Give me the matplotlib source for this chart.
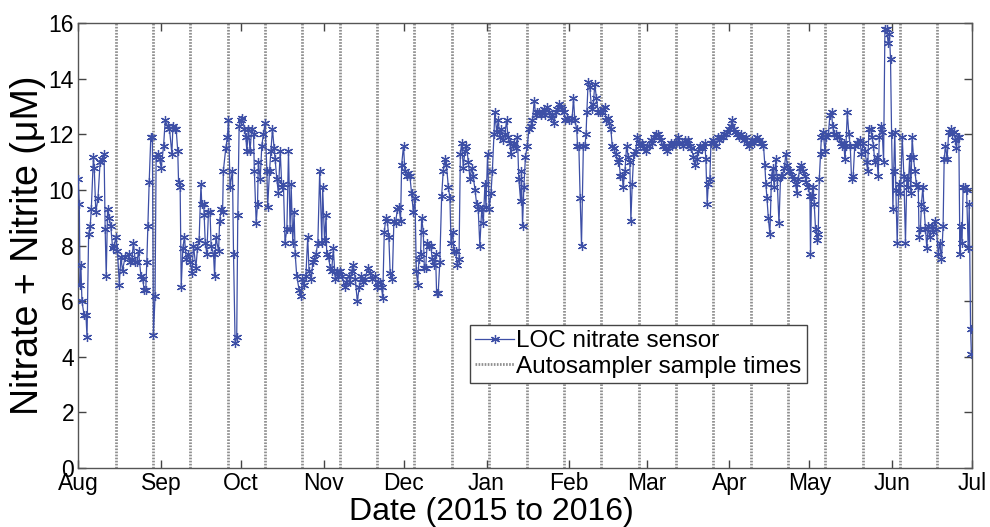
import matplotlib
matplotlib.use("Agg")
import matplotlib.pyplot as plt
import matplotlib.dates as mdates
import pandas as pd

# LOC sensor record: days after 1 Aug 2015 and nitrate + nitrite (uM)
days = [
    0.0, 0.4, 0.7, 1.0, 1.4, 2.2, 2.9, 3.3, 3.9, 4.5, 4.9, 5.7, 6.0, 6.6, 7.4, 8.2, 8.9, 9.7, 10.1, 10.5,
    11.0, 11.6, 12.2, 12.9, 13.5, 14.1, 14.7, 15.4, 16.0, 16.6, 17.6, 18.9, 19.5, 20.1, 20.7, 21.4, 22.0, 22.6,
    23.5, 24.2, 24.7, 25.3, 25.7, 26.1, 26.6, 27.2, 27.8, 28.2, 28.8, 29.2, 29.8, 30.5, 31.1, 32.0, 32.6, 33.5,
    34.2, 35.1, 35.5, 36.1, 36.7, 37.3, 37.6, 38.2, 38.6, 39.2, 39.8, 40.5, 41.3, 42.0, 42.6, 43.2, 44.1, 44.7,
    45.3, 46.0, 46.3, 47.0, 47.2, 47.6, 48.2, 48.8, 49.4, 49.8, 50.7, 51.1, 51.6, 52.6, 53.0, 53.6, 54.1, 54.4,
    55.3, 55.9, 56.3,
    56.9, 57.8, 58.2, 58.8, 59.4, 59.8, 60.3, 61.0, 61.5, 62.3, 62.8, 63.2, 63.8, 64.4, 65.0, 65.7, 66.0, 66.7,
    67.2, 67.5, 68.2, 68.8, 69.4, 70.0, 70.7, 71.0, 71.7, 72.2, 72.8, 73.4, 73.8, 74.4, 75.0, 75.7, 76.3, 76.9,
    77.5, 78.2, 78.8, 79.4, 79.8, 80.4, 80.9, 81.3, 81.9, 82.8, 83.5, 84.0, 84.6, 85.3, 86.0, 86.5, 87.3, 87.9,
    88.5, 89.1, 89.8, 90.5, 91.3, 91.6, 92.3, 92.9, 93.1, 93.8, 94.4, 95.0, 95.6, 96.3, 96.9, 97.5, 98.1, 99.0,
    99.8, 100.4, 101.3, 101.9, 102.5, 103.1, 103.8, 104.6, 105.3, 106.0, 106.8, 107.5, 108.5, 109.4, 110.2,
    111.2, 111.8, 112.5, 113.1, 113.7, 114.1, 114.7, 115.3, 115.8, 116.4, 116.9, 117.7, 118.3, 118.9, 119.6,
    120.2, 120.8, 121.2, 121.9, 122.4, 123.1, 123.7, 124.3, 124.9, 125.6, 126.2, 126.7, 127.2, 127.7, 128.3,
    128.7, 129.3, 129.7, 130.2, 130.8, 131.4, 132.1, 132.7, 133.3, 133.9, 134.3, 134.9, 135.5, 136.2, 136.8,
    137.4, 138.0, 138.7, 139.3, 139.7, 140.3, 140.8, 141.4, 142.0, 142.7, 143.2, 143.7, 144.3, 144.9, 145.5,
    146.2, 146.8, 147.4, 148.0, 148.7, 149.3, 149.9, 150.5, 151.2, 151.8, 152.4, 152.8, 153.4, 154.0, 154.7,
    155.2, 155.8, 156.1, 156.8, 157.4, 158.0, 158.6, 159.3, 159.9, 160.5, 161.1, 161.8, 162.1, 162.8, 163.4,
    163.9, 164.6, 165.1, 165.8, 166.1, 166.5, 167.0, 167.6, 168.3, 168.9,
    169.5, 170.2, 170.9, 171.4, 172.0, 172.6, 173.3, 173.9, 174.5, 175.1, 175.8, 176.4, 177.0, 177.6, 178.3,
    178.9, 179.5, 180.1, 180.8, 181.4, 182.0, 182.6, 183.3, 183.9, 184.5, 185.1, 185.6, 186.1, 186.8, 187.1,
    187.6, 188.1, 188.6, 189.3, 189.9, 190.3, 190.6, 191.1, 191.7, 192.4, 193.0, 193.6, 194.2, 194.9, 195.5,
    196.1, 196.7, 197.4, 197.7, 198.4, 198.9, 199.6, 200.1, 200.7, 201.4, 202.1, 202.6, 203.2, 203.9, 204.2,
    204.9, 205.5, 206.1, 206.7, 207.1, 207.6, 208.2, 208.9, 209.5, 210.1, 210.7, 211.4, 212.0, 212.6, 213.2,
    213.8, 214.5, 215.1, 215.8, 216.5, 217.1, 217.7, 218.3, 219.0, 219.6, 220.2, 220.8, 221.5, 222.1, 222.7,
    223.3, 224.0, 224.6, 225.2,
    226.1, 226.7, 227.4, 228.0, 228.6, 229.2, 229.8, 230.5, 231.1, 231.7, 232.3, 233.0, 233.6, 234.2, 234.8,
    235.2, 235.7, 236.1, 236.7, 237.1, 237.7, 238.3, 239.0, 239.6, 240.2, 240.8, 241.5, 242.1, 242.7, 243.3,
    244.0, 244.6, 245.1, 245.7, 246.3, 247.0, 247.6, 248.2, 248.8, 249.4, 250.1, 250.7, 251.3, 251.9, 252.6,
    253.2, 253.8, 254.4, 255.1, 255.7, 256.3, 256.8, 257.3, 257.7, 258.1, 258.6, 259.2, 259.8, 260.3, 260.8,
    261.4, 261.9, 262.6, 263.2, 263.8, 264.6, 265.2, 265.7, 266.3, 266.9, 267.6, 268.2, 268.8, 269.3, 269.8,
    270.4, 271.0, 271.7, 272.3, 272.9, 273.5, 274.2, 274.4, 274.8, 275.4, 275.8, 276.3, 276.9, 277.3, 277.7,
    278.2, 278.5, 279.2,
    279.8, 280.4, 281.1, 281.7, 282.3, 282.7, 283.2, 283.8, 284.4, 285.0, 285.7, 286.3, 286.9, 287.3, 287.7,
    288.2, 288.8, 289.3, 289.8, 290.4, 291.0, 291.7, 292.3, 292.9, 293.5, 294.2, 294.8, 295.4, 295.8, 296.3,
    296.9, 297.5, 298.0, 298.5, 299.2, 299.8, 300.2, 300.8, 301.3, 301.8, 302.3, 302.9, 303.5, 304.0, 304.4,
    304.8, 305.3, 305.6, 306.0, 306.4, 306.9, 307.5, 308.1, 308.8, 309.4, 310.0, 310.5, 311.0, 311.6, 312.0,
    312.5, 313.0, 313.5, 314.1, 314.8, 315.1, 315.6, 316.0, 316.5, 317.0, 317.5, 318.0, 318.5, 319.1, 319.8,
    320.4, 321.0, 321.6, 322.3, 322.9, 323.5, 324.1, 324.5, 325.0, 325.6, 326.2, 326.9, 327.5, 328.1, 328.7,
    329.1, 329.5, 330.0, 330.4, 330.7, 331.2, 331.6, 332.2, 332.9, 333.5, 333.9, 334.4, 334.7,
]
nitrate = [
    10.4, 9.5, 6.6, 7.3, 6.0, 5.5, 5.5, 4.7, 8.4, 8.7, 9.3, 11.2, 10.8, 9.2, 9.7, 11.0, 11.1, 11.3, 8.6, 6.9,
    9.3, 9.0, 8.7, 7.9, 8.0, 8.3, 7.8, 6.6, 7.6, 7.1, 7.6, 7.7, 7.4, 7.5, 8.1, 7.4, 7.4, 7.8,
    6.9, 6.8, 6.4, 6.4, 7.4, 8.7, 10.3, 11.9, 11.9, 4.8, 6.2, 11.2, 11.3, 11.1, 10.8, 11.6, 12.5, 12.3,
    12.2, 11.3, 12.3, 12.2, 12.2, 11.4, 10.3, 10.1, 6.5, 7.9, 8.3, 7.5, 7.7, 7.4, 7.0, 8.0, 7.2, 7.9,
    8.2, 10.2, 9.5, 9.5, 9.1, 8.1, 7.7, 9.2, 9.2, 8.0, 7.7, 6.9, 8.3, 7.8, 8.9, 9.3, 9.2, 10.7,
    11.5, 11.9, 12.5,
    10.1, 10.7, 7.7, 4.5, 4.7, 9.1, 12.3, 12.5, 12.6, 12.2, 11.9, 11.4, 12.2, 11.4, 12.2, 12.0, 10.7, 8.8,
    9.5, 11.0, 10.4, 11.6, 12.0, 12.4, 10.7, 9.4, 10.7, 11.4, 12.2, 11.5, 11.1, 10.4, 9.9, 11.4, 10.1, 10.2,
    8.1, 8.6, 11.4, 8.6, 10.2, 8.1, 9.2, 7.7, 6.9, 6.4, 6.2, 6.8, 6.6, 6.9, 8.3, 7.1, 6.8, 7.4,
    7.5, 7.7, 8.1, 10.7, 8.1, 10.1, 8.2, 9.1, 7.7, 7.6, 7.2, 7.1, 7.9, 6.8, 7.1, 6.9, 7.1, 6.9,
    6.5, 6.7, 6.9, 6.7, 7.1, 7.3, 6.8, 6.0, 6.5, 6.9, 6.7, 6.8, 7.2, 7.0, 6.8,
    6.9, 6.5, 6.7, 6.7, 6.5, 6.1, 8.5, 9.0, 8.9, 8.3, 7.0, 6.8, 8.9, 8.8, 9.3,
    9.4, 8.9, 10.9, 11.6, 10.7, 10.5, 10.6, 10.5, 9.9, 9.2, 9.7, 7.1, 6.6, 7.5, 7.7,
    9.0, 8.5, 7.2, 7.2, 8.1, 8.0, 8.0, 7.5, 7.3, 7.7, 6.3, 6.3, 7.4, 9.8, 10.7,
    11.1, 10.9, 10.1, 9.7, 8.1, 8.5, 7.8, 7.8, 7.3, 7.5, 11.3, 11.7, 10.8, 11.4, 11.6,
    11.0, 10.4, 10.8, 10.5, 10.0, 9.5, 9.3, 8.0, 9.3, 8.8, 10.2, 9.4, 11.3, 9.3, 9.9,
    10.7, 12.0, 12.8, 12.1, 12.5, 11.9, 12.2, 11.8, 12.0, 12.5, 11.9, 11.7, 11.3, 11.6, 11.7,
    11.5, 11.9, 10.4, 9.6, 10.7, 8.7, 10.1, 11.2, 11.6, 12.2,
    12.3, 12.5, 13.2, 12.7, 12.8, 12.8, 12.7, 12.8, 12.9, 12.7, 13.0, 12.8, 12.6, 12.7, 12.4,
    12.8, 12.9, 13.1, 13.0, 12.9, 12.8, 12.5, 12.6, 12.5, 12.5, 12.6, 13.3, 12.5, 12.2, 11.6,
    11.6, 9.7, 8.0, 11.6, 11.6, 12.0, 12.8, 13.9, 13.7, 12.9, 13.1, 13.8, 13.3, 12.8, 12.8,
    12.8, 12.9, 13.0, 12.5, 12.6, 12.4, 12.2, 11.6, 11.5, 11.3, 11.0, 11.1, 10.5, 10.5, 10.1,
    10.7, 11.6, 11.2, 11.0, 8.9, 10.2, 11.3, 11.4, 11.9, 11.7, 11.6, 11.7, 11.5, 11.4, 11.6,
    11.6, 11.8, 11.7, 11.9, 12.0, 12.0, 11.9, 11.8, 11.6, 11.6, 11.5, 11.4, 11.6, 11.7, 11.6,
    11.7, 11.7, 11.9, 11.7,
    11.7, 11.6, 11.8, 11.7, 11.8, 11.6, 11.5, 11.2, 10.9, 11.1, 11.4, 11.6, 11.5, 11.6, 11.7,
    11.1, 9.5, 10.2, 10.4, 11.7, 11.8, 11.7, 11.6, 11.9, 11.8, 11.9, 11.9, 12.0, 12.0, 12.1,
    12.2, 12.3, 12.5, 12.2, 12.1, 12.0, 11.9, 12.0, 11.9, 11.8, 11.9, 11.7, 11.6, 11.7, 11.8,
    11.7, 11.8, 11.9, 11.8, 11.7, 11.7, 11.6, 10.9, 10.2, 9.7, 9.0, 8.4, 10.5, 10.8, 10.1,
    11.1, 10.4, 8.8, 10.5, 10.5, 10.8, 11.3, 10.9, 10.7, 10.7, 10.5, 10.4, 10.2, 9.9, 10.4,
    10.8, 10.9, 10.7, 10.5, 10.3, 10.1, 9.8, 7.7, 9.8, 10.1, 9.5, 8.6, 8.2, 8.4, 10.4,
    11.3, 11.9, 12.1,
    11.4, 11.9, 12.0, 12.7, 12.8, 12.3, 12.0, 12.0, 11.9, 11.9, 11.7, 11.6, 11.7, 11.1, 11.6,
    12.8, 12.0, 11.6, 10.4, 10.5, 11.6, 11.7, 11.7, 11.8, 11.3, 11.7, 11.4, 11.0, 10.7, 12.2,
    12.2, 11.9, 11.6, 11.0, 11.2, 10.5, 11.9, 12.3, 12.1, 11.0, 15.8, 15.8, 15.3, 15.6, 14.7,
    12.0, 9.3, 10.7, 12.1, 10.0, 8.1, 10.2, 9.9, 11.9, 10.5, 8.1, 10.4, 10.1, 11.2, 9.9,
    11.9, 11.2, 10.7, 10.2, 10.1, 8.3, 8.6, 9.5, 10.1, 9.3, 8.6, 7.9, 8.7, 8.3, 8.7,
    8.5, 8.9, 8.6, 7.7, 8.1, 7.5, 8.7, 11.1, 11.6, 11.1, 12.1, 12.2, 12.0, 12.1, 11.8,
    11.5, 11.9, 11.9, 7.7, 8.7, 8.1, 10.1, 10.1, 10.0, 7.9, 9.5, 5.0, 4.1,
]

# autosampler collection dates (fortnightly)
sample_dates = [
    "2015-08-15", "2015-08-29", "2015-09-12", "2015-09-26", "2015-10-10", "2015-10-24",
    "2015-11-07", "2015-11-21", "2015-12-05", "2015-12-19", "2016-01-02", "2016-01-16",
    "2016-01-30", "2016-02-13", "2016-02-27", "2016-03-12", "2016-03-26", "2016-04-09",
    "2016-04-23", "2016-05-07", "2016-05-21", "2016-06-04", "2016-06-18",
]

start = pd.Timestamp("2015-08-01")
end = pd.Timestamp("2016-07-01")
times = start + pd.to_timedelta(days, unit="D")

plt.rcParams['font.family'] = ['Liberation Sans', 'DejaVu Sans']

fig = plt.figure(figsize=(9.9, 5.27), dpi=100)
ax = fig.add_axes([0.079, 0.112, 0.903, 0.844])

for i, d in enumerate(sample_dates):
    ax.axvline(pd.Timestamp(d), color='#8f8f8f', linestyle=(0, (0.6, 0.5)), linewidth=2.0,
               label='Autosampler sample times' if i == 0 else None, zorder=1)

ax.plot(times, nitrate, color='#3d4fa6', linewidth=0.9, marker=(6, 2, 0), markersize=6.5,
        markeredgewidth=0.9, label='LOC nitrate sensor', zorder=3)

ax.set_xlim(start, end)
ax.set_ylim(0, 16)
ax.set_yticks(range(0, 17, 2))
ax.xaxis.set_major_locator(mdates.MonthLocator())
ax.xaxis.set_major_formatter(mdates.DateFormatter('%b'))

ax.tick_params(direction='in', top=True, right=True, labelsize=16.5, length=6,
               color='#444444', width=1, pad=3)
for s in ax.spines.values():
    s.set_color('#555555')
    s.set_linewidth(1)

ax.set_xlabel('Date (2015 to 2016)', fontsize=23)
ax.xaxis.set_label_coords(0.462, -0.066)
ax.set_ylabel('Nitrate + Nitrite (\u03bcM)', fontsize=27, labelpad=2)

h, l = ax.get_legend_handles_labels()
leg = ax.legend(h[::-1], l[::-1], loc='upper left', bbox_to_anchor=(0.475, 0.383),
                bbox_transform=fig.transFigure, fontsize=17.5, fancybox=False,
                framealpha=1, edgecolor='#444444', borderpad=0.2, labelspacing=0.15,
                handlelength=1.6, handletextpad=0.1, borderaxespad=0)
leg.get_frame().set_linewidth(1)

fig.savefig('out.png', dpi=100)
